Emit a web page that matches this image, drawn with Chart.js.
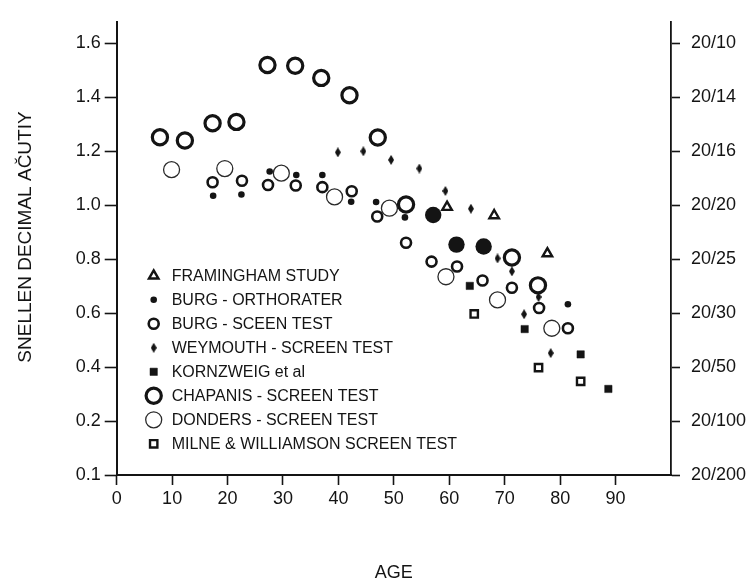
<!DOCTYPE html>
<html>
<head>
<meta charset="utf-8">
<script src="https://cdn.jsdelivr.net/npm/chart.js@4.4.1/dist/chart.umd.min.js"></script>
<style>
  html, body { margin: 0; padding: 0; background: #fff; }
  #wrap { width: 755px; height: 581px; position: relative; }
</style>
</head>
<body>
<div id="wrap"><canvas id="acuity"></canvas></div>
<script>
// axis ticks
const ageTicks = [0, 10, 20, 30, 40, 50, 60, 70, 80, 90];
const acuityTicks = [0, 0.2, 0.4, 0.6, 0.8, 1.0, 1.2, 1.4, 1.6];
const acuityLabels = ["0.1", "0.2", "0.4", "0.6", "0.8", "1.0", "1.2", "1.4", "1.6"];
const snellenLabels = ["20/200", "20/100", "20/50", "20/30", "20/25", "20/20", "20/16", "20/14", "20/10"];

// one pair of arrays per study
const framinghamAge = [59.6, 68.1, 77.7];
const framinghamAcuity = [0.993, 0.962, 0.821];

const burgOrthoAge = [17.4, 22.5, 27.6, 32.4, 37.1, 42.3, 46.8, 52.0, 81.4];
const burgOrthoAcuity = [1.035, 1.040, 1.125, 1.112, 1.112, 1.013, 1.012, 0.955, 0.633];

const burgScreenAge = [17.3, 22.6, 27.3, 32.3, 37.1, 42.4, 47.0, 52.2, 56.8, 61.4, 66.0, 71.3, 76.2, 81.4];
const burgScreenAcuity = [1.085, 1.091, 1.075, 1.073, 1.067, 1.052, 0.958, 0.861, 0.791, 0.773, 0.721, 0.694, 0.619, 0.544];

const weymouthAge = [39.9, 44.5, 49.5, 54.6, 59.3, 63.9, 68.7, 71.3, 73.5, 76.1, 78.3];
const weymouthAcuity = [1.196, 1.200, 1.168, 1.136, 1.053, 0.987, 0.803, 0.755, 0.596, 0.660, 0.452];

const kornzweigAge = [63.7, 73.6, 83.7, 88.7];
const kornzweigAcuity = [0.701, 0.541, 0.447, 0.319];

const chapanisAge = [7.8, 12.3, 17.3, 21.6, 27.2, 32.2, 36.9, 42.0, 47.1, 52.2, 71.3, 76.0];
const chapanisAcuity = [1.252, 1.240, 1.304, 1.309, 1.520, 1.517, 1.472, 1.408, 1.251, 1.003, 0.806, 0.703];

const dondersAge = [9.9, 19.5, 29.7, 39.3, 49.2, 59.4, 68.7, 78.5];
const dondersAcuity = [1.132, 1.136, 1.119, 1.031, 0.989, 0.735, 0.649, 0.544];

const milneAge = [64.5, 76.1, 83.7];
const milneAcuity = [0.597, 0.398, 0.347];

const solidAge = [57.1, 61.3, 66.2];
const solidAcuity = [0.964, 0.854, 0.847];

const ink = "#141414";
const fontFamily = '"Liberation Sans", Arial, Helvetica, sans-serif';

function points(xs, ys) {
  return xs.map((x, i) => ({ x: x, y: ys[i] }));
}

// narrow upright diamond used for the Weymouth marks
function diamondMark(w, h) {
  const c = document.createElement("canvas");
  c.width = w;
  c.height = h;
  const g = c.getContext("2d");
  g.fillStyle = ink;
  g.beginPath();
  g.moveTo(w / 2, 0);
  g.lineTo(w, h / 2);
  g.lineTo(w / 2, h);
  g.lineTo(0, h / 2);
  g.closePath();
  g.fill();
  return c;
}

function series(label, xs, ys, style, radius, border, fill, stroke) {
  return {
    label: label,
    data: points(xs, ys),
    pointStyle: style,
    pointRadius: radius,
    pointBorderWidth: border,
    pointBackgroundColor: fill,
    pointBorderColor: stroke || ink,
    showLine: false
  };
}

const datasets = [
  series("FRAMINGHAM STUDY", framinghamAge, framinghamAcuity, "triangle", 5.5, 2.4, "#fff"),
  series("BURG - ORTHORATER", burgOrthoAge, burgOrthoAcuity, "circle", 3.3, 0, ink),
  series("BURG - SCEEN TEST", burgScreenAge, burgScreenAcuity, "circle", 5.0, 2.6, "#fff"),
  series("WEYMOUTH - SCREEN TEST", weymouthAge, weymouthAcuity, diamondMark(6, 10), 4, 0, ink),
  series("KORNZWEIG et al", kornzweigAge, kornzweigAcuity, "rect", 5.2, 0.5, ink),
  series("CHAPANIS - SCREEN TEST", chapanisAge, chapanisAcuity, "circle", 7.6, 3.2, "#fff"),
  series("DONDERS - SCREEN TEST", dondersAge, dondersAcuity, "circle", 8.0, 1.3, "#fff", "#2a2a2a"),
  series("MILNE & WILLIAMSON SCREEN TEST", milneAge, milneAcuity, "rect", 5.2, 2.4, "#fff"),
  series("", solidAge, solidAcuity, "circle", 8.2, 0, ink)
];

// key drawn inside the plot, lower left
const insideLegend = {
  id: "insideLegend",
  afterDraw(chart) {
    const ctx = chart.ctx;
    const area = chart.chartArea;
    const markX = area.left + 37;
    const textX = area.left + 55;
    let y = area.top + 254;
    ctx.save();
    ctx.font = "16px " + fontFamily;
    ctx.textBaseline = "middle";
    chart.data.datasets.forEach(ds => {
      if (!ds.label) return;
      ctx.fillStyle = ds.pointBackgroundColor;
      ctx.strokeStyle = ds.pointBorderColor;
      ctx.lineWidth = ds.pointBorderWidth;
      Chart.helpers.drawPoint(ctx, {
        pointStyle: ds.pointStyle,
        radius: ds.pointRadius,
        borderWidth: ds.pointBorderWidth,
        rotation: 0
      }, markX, y);
      ctx.fillStyle = ink;
      ctx.fillText(ds.label, textX, y + 1);
      y += 24;
    });
    ctx.restore();
  }
};

// axis titles
const axisTitles = {
  id: "axisTitles",
  afterDraw(chart) {
    const ctx = chart.ctx;
    const area = chart.chartArea;
    ctx.save();
    ctx.fillStyle = ink;
    ctx.textAlign = "center";
    ctx.textBaseline = "middle";
    ctx.font = "18px " + fontFamily;
    ctx.fillText("AGE", (area.left + area.right) / 2, 573);
    ctx.translate(26, 237);
    ctx.rotate(-Math.PI / 2);
    ctx.font = "19px " + fontFamily;
    ctx.fillText("SNELLEN DECIMAL AC\u0306UTIY", 0, 0);
    ctx.restore();
  }
};

const tickFont = { family: fontFamily, size: 18 };

new Chart(document.getElementById("acuity"), {
  type: "scatter",
  data: { datasets: datasets },
  options: {
    responsive: true,
    maintainAspectRatio: false,
    animation: false,
    events: [],
    layout: { padding: { top: 14, left: 0, right: 0, bottom: 0 } },
    plugins: {
      legend: { display: false },
      tooltip: { enabled: false }
    },
    scales: {
      x: {
        type: "linear",
        position: "bottom",
        min: 0,
        max: 100,
        afterBuildTicks: s => { s.ticks = ageTicks.map(v => ({ value: v })); },
        afterFit: s => { s.height = 106; },
        ticks: { color: ink, font: tickFont, padding: 3, maxRotation: 0, autoSkip: false,
                 callback: v => String(v) },
        grid: { drawOnChartArea: false, drawTicks: true, tickLength: 10, tickWidth: 1.6, color: ink },
        border: { display: true, color: ink, width: 2 }
      },
      y: {
        type: "linear",
        position: "left",
        min: 0,
        max: 1.68,
        afterBuildTicks: s => { s.ticks = acuityTicks.map(v => ({ value: v })); },
        afterFit: s => { s.width = 116.7; },
        ticks: { color: ink, font: tickFont, padding: 4, autoSkip: false,
                 callback: (v, i) => acuityLabels[i] },
        grid: { drawOnChartArea: false, drawTicks: true, tickLength: 12, tickWidth: 1.6, color: ink },
        border: { display: true, color: ink, width: 2 }
      },
      snellen: {
        type: "linear",
        position: "right",
        min: 0,
        max: 1.68,
        afterBuildTicks: s => { s.ticks = acuityTicks.map(v => ({ value: v })); },
        afterFit: s => { s.width = 84; },
        ticks: { color: ink, font: tickFont, padding: 11, autoSkip: false,
                 callback: (v, i) => snellenLabels[i] },
        grid: { drawOnChartArea: false, drawTicks: true, tickLength: 9, tickWidth: 1.6, color: ink },
        border: { display: true, color: ink, width: 1.8 }
      }
    }
  },
  plugins: [insideLegend, axisTitles]
});
</script>
</body>
</html>
